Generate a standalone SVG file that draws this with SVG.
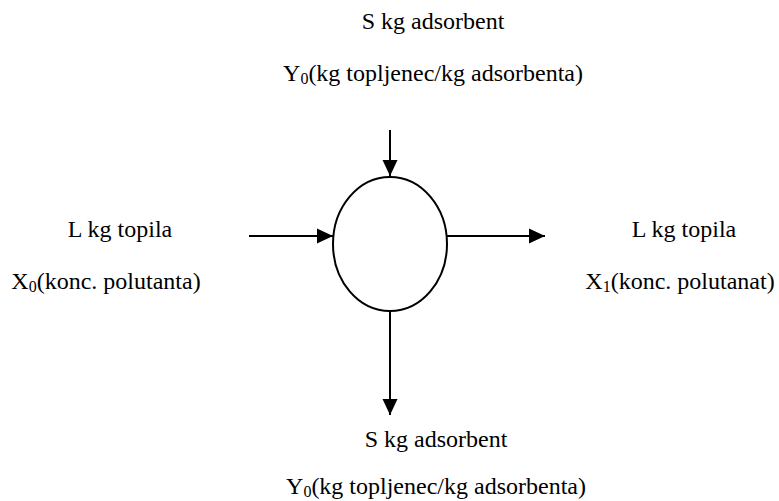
<svg xmlns="http://www.w3.org/2000/svg" width="779" height="501" viewBox="0 0 779 501">
<style>
.lbl{font-family:'Liberation Serif','Times New Roman','DejaVu Serif',serif;font-size:24px;fill:#000}
.sub{font-size:16px}
.edge{stroke:#000;stroke-width:2;fill:none}
</style>
<defs>
<marker id="ah" markerUnits="userSpaceOnUse" markerWidth="16" markerHeight="16" viewBox="0 0 16 16" refX="16" refY="8" orient="auto">
<path d="M0,0.5 L16,8 L0,15.5 Z" fill="#000"/>
</marker>
</defs>
<rect width="779" height="501" fill="#fff"/>
<g id="connectors">
<line class="edge" x1="390" y1="130" x2="390" y2="176" marker-end="url(#ah)"/>
<line class="edge" x1="249" y1="236" x2="333" y2="236" marker-end="url(#ah)"/>
<line class="edge" x1="447" y1="236" x2="545" y2="236" marker-end="url(#ah)"/>
<line class="edge" x1="390" y1="311" x2="390" y2="415" marker-end="url(#ah)"/>
</g>
<g id="adsorber">
<ellipse cx="390" cy="244" rx="57" ry="67" fill="#fff" stroke="#000" stroke-width="2"/>
</g>
<g id="top-input" font-family="Liberation Serif, serif">
<text class="lbl" x="433" y="29" text-anchor="middle">S kg adsorbent</text>
<text class="lbl" x="433" y="81" text-anchor="middle">Y<tspan class="sub" dy="3">0</tspan><tspan dy="-3">(kg topljenec/kg adsorbenta)</tspan></text>
</g>
<g id="left-input" font-family="Liberation Serif, serif">
<text class="lbl" x="120" y="237" text-anchor="middle">L kg topila</text>
<text class="lbl" x="106" y="289" text-anchor="middle">X<tspan class="sub" dy="3">0</tspan><tspan dy="-3">(konc. polutanta)</tspan></text>
</g>
<g id="right-output" font-family="Liberation Serif, serif">
<text class="lbl" x="684" y="237" text-anchor="middle">L kg topila</text>
<text class="lbl" x="680" y="289" text-anchor="middle">X<tspan class="sub" dy="3">1</tspan><tspan dy="-3">(konc. polutanat)</tspan></text>
</g>
<g id="bottom-output" font-family="Liberation Serif, serif">
<text class="lbl" x="436" y="447" text-anchor="middle">S kg adsorbent</text>
<text class="lbl" x="436" y="494" text-anchor="middle">Y<tspan class="sub" dy="3">0</tspan><tspan dy="-3">(kg topljenec/kg adsorbenta)</tspan></text>
</g>
</svg>
